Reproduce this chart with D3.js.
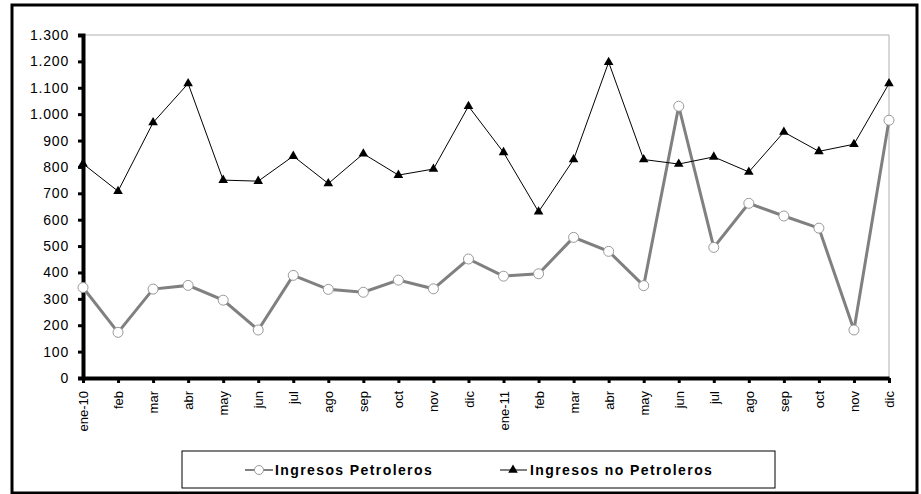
<!DOCTYPE html>
<meta charset="utf-8">
<script src="https://d3js.org/d3.v7.min.js"></script>
<style>
  body { margin: 0; background: #fff; }
  text { font-family: Arial, "Liberation Sans", sans-serif; }
</style>
<div id="my_dataviz"></div>
<script>

// data
var months = ["ene-10","feb","mar","abr","may","jun","jul","ago","sep","oct","nov","dic",
              "ene-11","feb","mar","abr","may","jun","jul","ago","sep","oct","nov","dic"];
var petroleros = [343,173,337,351,295,182,389,336,325,371,338,451,
                  386,395,533,480,350,1030,495,662,614,568,182,977];
var noPetroleros = [812,708,968,1116,750,746,841,737,850,769,792,1030,
                    855,630,828,1197,828,811,838,781,932,859,886,1116];
var yTicks = [0,100,200,300,400,500,600,700,800,900,1000,1100,1200,1300];
var seriesNames = ["Ingresos Petroleros","Ingresos no Petroleros"];

var W = 921, H = 494;
var margin = {top: 35, left: 83, right: 32, bottom: 116};
var width = W - margin.left - margin.right,
    height = H - margin.top - margin.bottom;

var svg = d3.select("#my_dataviz")
  .append("svg")
    .attr("width", W)
    .attr("height", H);

// outer frame
svg.append("rect")
  .attr("x", 12).attr("y", 5)
  .attr("width", 905).attr("height", 488)
  .attr("fill", "none")
  .attr("stroke", "#000")
  .attr("stroke-width", 3);

var g = svg.append("g")
  .attr("transform", "translate(" + margin.left + "," + margin.top + ")");

var x = d3.scalePoint()
  .domain(d3.range(months.length))
  .range([0, width]);

var y = d3.scaleLinear()
  .domain([0, 1300])
  .range([height, 0]);

// plot area border (gray top & right)
g.append("path")
  .attr("d", "M0,0H" + width + "V" + height)
  .attr("fill", "none")
  .attr("stroke", "#b0b0b0")
  .attr("stroke-width", 1);

// Y axis
var yAxis = g.append("g")
  .call(d3.axisLeft(y).tickValues(yTicks).tickSize(5).tickPadding(9)
    .tickFormat(function(d) { return d3.format(",")(d).replace(/,/g, "."); }));
yAxis.select(".domain").attr("stroke", "#000").attr("stroke-width", 4);
yAxis.selectAll(".tick line").attr("stroke", "#000").attr("stroke-width", 3);
yAxis.selectAll("text")
  .style("font-size", "14px")
  .style("letter-spacing", "0.8px")
  .attr("fill", "#000");

// X axis
var xAxis = g.append("g")
  .attr("transform", "translate(0," + height + ")")
  .call(d3.axisBottom(x).tickSize(5).tickSizeOuter(0)
    .tickFormat(function(i) { return months[i]; }));
xAxis.select(".domain").attr("stroke", "#000").attr("stroke-width", 4);
xAxis.selectAll(".tick line").attr("stroke", "#000").attr("stroke-width", 3);
xAxis.selectAll("text")
  .style("font-size", "13px")
  .attr("fill", "#000")
  .attr("transform", "rotate(-90)")
  .attr("text-anchor", "end")
  .attr("x", -13)
  .attr("y", 0)
  .attr("dy", "0.35em");

var line = d3.line()
  .x(function(d, i) { return x(i); })
  .y(function(d) { return y(d); });

// petroleros (gray thick line, white circles)
g.append("path")
  .datum(petroleros)
  .attr("d", line)
  .attr("fill", "none")
  .attr("stroke", "#808080")
  .attr("stroke-width", 3);

g.selectAll(".circ")
  .data(petroleros)
  .enter()
  .append("circle")
    .attr("cx", function(d, i) { return x(i); })
    .attr("cy", function(d) { return y(d); })
    .attr("r", 5)
    .attr("fill", "#fff")
    .attr("stroke", "#999")
    .attr("stroke-width", 1);

// no petroleros (black thin line, triangles)
g.append("path")
  .datum(noPetroleros)
  .attr("d", line)
  .attr("fill", "none")
  .attr("stroke", "#000")
  .attr("stroke-width", 1);

var tri = d3.symbol().type(d3.symbolTriangle).size(40);
g.selectAll(".tri")
  .data(noPetroleros)
  .enter()
  .append("path")
    .attr("d", tri)
    .attr("transform", function(d, i) { return "translate(" + x(i) + "," + y(d) + ")"; })
    .attr("fill", "#000");

// legend
var legend = svg.append("g");
legend.append("rect")
  .attr("x", 182).attr("y", 451)
  .attr("width", 593).attr("height", 37)
  .attr("fill", "#fff")
  .attr("stroke", "#000")
  .attr("stroke-width", 1);

legend.append("line")
  .attr("x1", 245).attr("x2", 273).attr("y1", 470).attr("y2", 470)
  .attr("stroke", "#808080").attr("stroke-width", 2);
legend.append("circle")
  .attr("cx", 259).attr("cy", 470).attr("r", 4.5)
  .attr("fill", "#fff").attr("stroke", "#999");
legend.append("text")
  .attr("x", 275).attr("y", 475)
  .style("font-size", "14px").style("font-weight", "bold").style("letter-spacing", "1.4px")
  .text(seriesNames[0]);

legend.append("line")
  .attr("x1", 500).attr("x2", 527).attr("y1", 470).attr("y2", 470)
  .attr("stroke", "#000").attr("stroke-width", 1);
legend.append("path")
  .attr("d", tri)
  .attr("transform", "translate(513,470)")
  .attr("fill", "#000");
legend.append("text")
  .attr("x", 530).attr("y", 475)
  .style("font-size", "14px").style("font-weight", "bold").style("letter-spacing", "1.4px")
  .text(seriesNames[1]);

</script>
